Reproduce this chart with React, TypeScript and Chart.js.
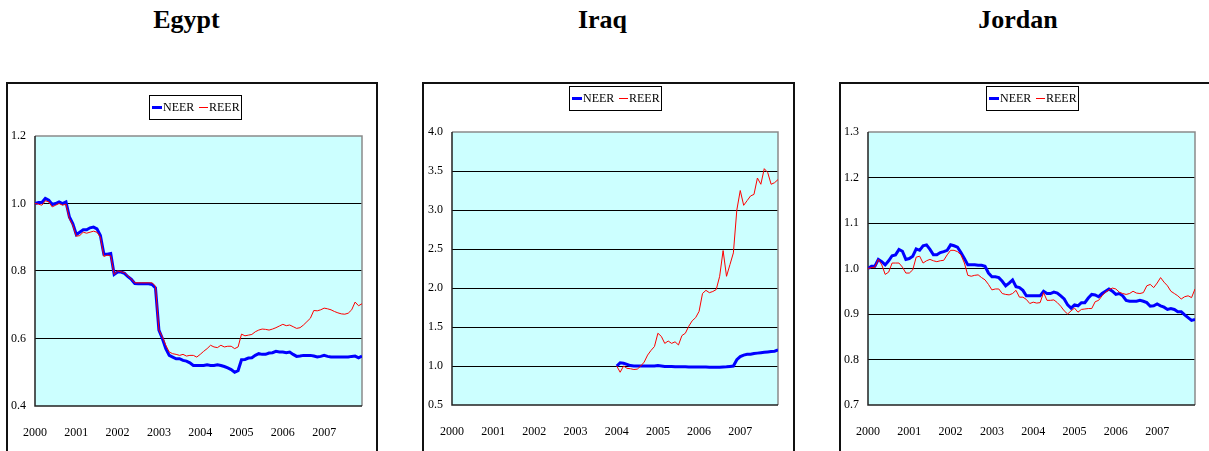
import React, { useEffect, useRef } from "react";
import { Chart, registerables } from "chart.js";

Chart.register(...registerables);

const YEAR_TICKS = [2000, 2001, 2002, 2003, 2004, 2005, 2006, 2007];
const SERIES_NAMES = ["NEER", "REER"];

// Monthly, Jan 2000 - Dec 2007
const EGYPT_NEER = [
  1.0, 1.003, 1.003, 1.015, 1.01, 0.997, 1.0, 1.005, 1.0, 1.005, 0.96, 0.94,
  0.908, 0.915, 0.922, 0.922, 0.928, 0.93, 0.925, 0.905, 0.85, 0.85, 0.852, 0.79,
  0.797, 0.797, 0.793, 0.783, 0.775, 0.763, 0.762, 0.762, 0.762, 0.762, 0.76, 0.75,
  0.625, 0.6, 0.57, 0.55, 0.545, 0.54, 0.54, 0.535, 0.533, 0.528, 0.52, 0.52,
  0.52, 0.52, 0.522, 0.52, 0.52, 0.522, 0.52, 0.517, 0.513, 0.508, 0.5, 0.505,
  0.537, 0.538, 0.542, 0.543, 0.55, 0.555, 0.553, 0.553, 0.557, 0.558, 0.562, 0.56,
  0.56, 0.558, 0.56, 0.553, 0.547, 0.548, 0.55, 0.55, 0.55, 0.548, 0.545, 0.547,
  0.55, 0.547, 0.545, 0.545, 0.545, 0.545, 0.545, 0.545, 0.547, 0.548, 0.543, 0.548,
];
const EGYPT_REER = [
  1.0, 0.998, 0.995, 1.008, 1.005, 0.99, 0.995, 1.0, 0.995, 0.998, 0.955, 0.935,
  0.903, 0.905, 0.915, 0.912, 0.915, 0.918, 0.915, 0.9, 0.843, 0.847, 0.845, 0.79,
  0.8, 0.798, 0.795, 0.785, 0.776, 0.765, 0.765, 0.765, 0.765, 0.765, 0.765, 0.755,
  0.625, 0.605, 0.58, 0.56, 0.555, 0.553, 0.55, 0.553, 0.548, 0.55, 0.55, 0.545,
  0.553, 0.562, 0.57, 0.58, 0.575, 0.573, 0.58, 0.575, 0.577, 0.577, 0.57, 0.575,
  0.613, 0.608, 0.61, 0.612, 0.62, 0.625, 0.628, 0.627, 0.625, 0.628, 0.632, 0.637,
  0.642, 0.638, 0.64, 0.635, 0.63, 0.632, 0.64, 0.65, 0.66, 0.683, 0.682, 0.685,
  0.69, 0.688, 0.685, 0.68, 0.676, 0.673, 0.672, 0.675, 0.685, 0.708, 0.697, 0.703,
];

// Monthly, Jan 2004 - Dec 2007
const IRAQ_START_YEAR = 2004;
const IRAQ_NEER = [
  1.0, 1.04, 1.035, 1.02, 1.005, 1.0, 1.0, 1.0, 1.0, 1.0, 1.0, 1.0,
  1.005, 1.0, 0.995, 0.995, 0.995, 0.99, 0.99, 0.99, 0.99, 0.988, 0.988, 0.988,
  0.988, 0.988, 0.988, 0.985, 0.985, 0.985, 0.985, 0.988, 0.99, 0.995, 1.0, 1.08,
  1.12, 1.14, 1.15, 1.15, 1.16, 1.165, 1.17, 1.175, 1.18, 1.185, 1.19, 1.205,
];
const IRAQ_REER = [
  1.0, 0.92, 1.0, 0.97, 0.965, 0.955, 0.96, 1.0, 1.05, 1.14, 1.2, 1.25,
  1.42, 1.38, 1.29, 1.32, 1.29, 1.31, 1.27, 1.39, 1.42, 1.51, 1.58, 1.62,
  1.7, 1.93, 1.97, 1.94, 1.955, 1.98, 2.15, 2.48, 2.15, 2.3, 2.45, 3.0,
  3.25, 3.06, 3.12, 3.18, 3.2, 3.41, 3.33, 3.53, 3.48, 3.33, 3.35, 3.39,
];

// Monthly, Jan 2000 - Dec 2007
const JORDAN_NEER = [
  1.0, 1.005, 1.005, 1.02, 1.015, 1.008, 1.017, 1.028, 1.03, 1.042, 1.038, 1.02,
  1.022, 1.027, 1.043, 1.04, 1.05, 1.052, 1.042, 1.03, 1.03, 1.035, 1.037, 1.04,
  1.052, 1.05, 1.047, 1.035, 1.022, 1.008, 1.008, 1.008, 1.007, 1.007, 1.005, 0.99,
  0.982, 0.982, 0.98, 0.972, 0.962, 0.968, 0.975, 0.96, 0.958, 0.952, 0.94, 0.94,
  0.94, 0.94, 0.94, 0.95, 0.945, 0.945, 0.948, 0.946, 0.94, 0.933, 0.92, 0.913,
  0.92, 0.918, 0.925, 0.925, 0.935, 0.943, 0.942, 0.938, 0.945, 0.95, 0.955, 0.95,
  0.943, 0.945, 0.94, 0.93, 0.928, 0.928, 0.928, 0.93, 0.928, 0.925, 0.917, 0.918,
  0.922, 0.918, 0.915, 0.91, 0.912, 0.91, 0.905, 0.905, 0.898, 0.892, 0.886, 0.888,
];
const JORDAN_REER = [
  1.0, 1.002, 1.003, 1.02, 1.008, 0.987, 0.992, 1.012, 1.012, 1.012, 1.003, 0.99,
  0.99, 0.997, 1.025, 1.027, 1.012, 1.017, 1.02, 1.017, 1.015, 1.017, 1.018, 1.03,
  1.04, 1.04, 1.037, 1.03, 1.012, 0.985, 0.983, 0.985, 0.986, 0.98, 0.975, 0.965,
  0.953, 0.955, 0.955, 0.945, 0.943, 0.942, 0.945, 0.952, 0.937, 0.937, 0.932, 0.923,
  0.926, 0.924, 0.925, 0.947, 0.93, 0.93, 0.931, 0.925, 0.917, 0.907, 0.9, 0.907,
  0.913, 0.904, 0.91, 0.911, 0.912, 0.912, 0.927, 0.93, 0.94, 0.948, 0.953, 0.957,
  0.955, 0.948, 0.945, 0.943, 0.945, 0.95, 0.946, 0.945, 0.947, 0.962, 0.965, 0.958,
  0.968, 0.98, 0.97, 0.962, 0.95, 0.945, 0.94, 0.933, 0.938, 0.94, 0.936, 0.955,
];

const FONT = "'Liberation Serif', 'Times New Roman', serif";
const X_MIN = 2000;
const X_MAX = 2000 + 95 / 12;

type Panel = {
  title: string;
  titleCenter: number;
  boxLeft: number;
  boxWidth: number;
  neer: number[];
  reer: number[];
  startYear: number;
  yMin: number;
  yMax: number;
  yStep: number;
  plotLeft: number;
  plotTop: number;
  plotBottom: number;
  legendX: number;
  legendY: number;
};

const CANVAS_W = 372;
const CANVAS_H = 368;
const PLOT_RIGHT = 355;

const PANELS: Panel[] = [
  {
    title: "Egypt", titleCenter: 186.5, boxLeft: 7, boxWidth: 372,
    neer: EGYPT_NEER, reer: EGYPT_REER, startYear: 2000,
    yMin: 0.4, yMax: 1.2, yStep: 0.2,
    plotLeft: 28, plotTop: 53, plotBottom: 323, legendX: 142, legendY: 12,
  },
  {
    title: "Iraq", titleCenter: 602.5, boxLeft: 423, boxWidth: 373,
    neer: IRAQ_NEER, reer: IRAQ_REER, startYear: IRAQ_START_YEAR,
    yMin: 0.5, yMax: 4.0, yStep: 0.5,
    plotLeft: 29, plotTop: 49, plotBottom: 322, legendX: 146, legendY: 3,
  },
  {
    title: "Jordan", titleCenter: 1018, boxLeft: 840, boxWidth: 372,
    neer: JORDAN_NEER, reer: JORDAN_REER, startYear: 2000,
    yMin: 0.7, yMax: 1.3, yStep: 0.1,
    plotLeft: 28, plotTop: 49, plotBottom: 322, legendX: 146, legendY: 3,
  },
];

function toPoints(values: number[], startYear: number) {
  return values.map((v, i) => ({ x: startYear + i / 12, y: v }));
}

function PanelChart({ p }: { p: Panel }) {
  const ref = useRef<HTMLCanvasElement | null>(null);
  useEffect(() => {
    if (!ref.current) return;
    const bgPlugin = {
      id: "plotBg",
      beforeDraw(chart: any) {
        const { ctx, chartArea: a } = chart;
        ctx.save();
        ctx.fillStyle = "#CCFFFF";
        ctx.fillRect(a.left, a.top, a.right - a.left, a.bottom - a.top);
        ctx.restore();
      },
      beforeDatasetsDraw(chart: any) {
        const { ctx, chartArea: a } = chart;
        ctx.save();
        ctx.lineWidth = 1.5;
        ctx.strokeStyle = "#8a8a8a";
        ctx.beginPath();
        ctx.moveTo(a.left, a.top);
        ctx.lineTo(a.right, a.top);
        ctx.lineTo(a.right, a.bottom);
        ctx.stroke();
        ctx.strokeStyle = "#222";
        ctx.beginPath();
        ctx.moveTo(a.left, a.top);
        ctx.lineTo(a.left, a.bottom);
        ctx.lineTo(a.right, a.bottom);
        ctx.stroke();
        ctx.restore();
      },
      afterDraw(chart: any) {
        const { ctx } = chart;
        const L = p.legendX;
        const T = p.legendY;
        const W = 92;
        const H = 24;
        ctx.save();
        ctx.fillStyle = "#fff";
        ctx.fillRect(L, T, W, H);
        ctx.strokeStyle = "#000";
        ctx.lineWidth = 1;
        ctx.strokeRect(L + 0.5, T + 0.5, W, H);
        const cy = T + H / 2 + 0.5;
        ctx.strokeStyle = "#0000FF";
        ctx.lineWidth = 3;
        ctx.beginPath();
        ctx.moveTo(L + 3, cy);
        ctx.lineTo(L + 13, cy);
        ctx.stroke();
        ctx.strokeStyle = "#FF0000";
        ctx.lineWidth = 1;
        ctx.beginPath();
        ctx.moveTo(L + 50, cy);
        ctx.lineTo(L + 59, cy);
        ctx.stroke();
        ctx.fillStyle = "#000";
        ctx.font = `12px ${FONT}`;
        ctx.textBaseline = "middle";
        ctx.textAlign = "left";
        ctx.fillText(SERIES_NAMES[0], L + 14, cy);
        ctx.fillText(SERIES_NAMES[1], L + 60, cy);
        ctx.restore();
      },
    };

    const chart = new Chart(ref.current, {
      type: "line",
      data: {
        datasets: [
          {
            label: SERIES_NAMES[0],
            data: toPoints(p.neer, p.startYear),
            borderColor: "#0000FF",
            backgroundColor: "#0000FF",
            borderWidth: 3,
            pointRadius: 0,
            tension: 0,
            order: 1,
          },
          {
            label: SERIES_NAMES[1],
            data: toPoints(p.reer, p.startYear),
            borderColor: "#FF0000",
            backgroundColor: "#FF0000",
            borderWidth: 1,
            pointRadius: 0,
            tension: 0,
            order: 0,
          },
        ],
      },
      options: {
        responsive: false,
        animation: false,
        events: [],
        layout: {
          padding: { left: 0, top: p.plotTop, right: CANVAS_W - PLOT_RIGHT, bottom: 0 },
        },
        plugins: {
          legend: { display: false },
          tooltip: { enabled: false },
          title: { display: false },
        },
        scales: {
          x: {
            type: "linear",
            min: X_MIN,
            max: X_MAX,
            afterFit: (s: any) => {
              s.height = CANVAS_H - p.plotBottom;
              s.paddingLeft = 0;
              s.paddingRight = 0;
            },
            grid: { display: false, drawTicks: false },
            border: { display: false },
            ticks: {
              stepSize: 1,
              includeBounds: false,
              autoSkip: false,
              maxRotation: 0,
              padding: 20,
              color: "#000",
              font: { family: FONT, size: 12 },
              callback: (v: any) => {
                const y = YEAR_TICKS.find((t) => Math.abs(t - Number(v)) < 1e-6);
                return y === undefined ? "" : String(y);
              },
            },
          },
          y: {
            type: "linear",
            min: p.yMin,
            max: p.yMax,
            afterFit: (s: any) => {
              s.width = p.plotLeft;
            },
            grid: {
              drawTicks: false,
              lineWidth: 1,
              color: (c: any) => {
                const v = c.tick ? c.tick.value : null;
                if (v === null) return "rgba(0,0,0,0)";
                if (Math.abs(v - p.yMin) < 1e-6 || Math.abs(v - p.yMax) < 1e-6) return "rgba(0,0,0,0)";
                return "#000";
              },
            },
            border: { display: false },
            ticks: {
              stepSize: p.yStep,
              padding: 9,
              color: "#000",
              font: { family: FONT, size: 12 },
              callback: (v: any) => Number(v).toFixed(1),
            },
          },
        },
      },
      plugins: [bgPlugin],
    } as any);
    return () => chart.destroy();
  }, [p]);

  return (
    <>
      <div
        style={{
          position: "absolute",
          left: p.titleCenter - 100,
          top: 7,
          width: 200,
          textAlign: "center",
          fontFamily: FONT,
          fontWeight: "bold",
          fontSize: 26,
          lineHeight: "26px",
          color: "#000",
        }}
      >
        {p.title}
      </div>
      <div
        style={{
          position: "absolute",
          left: p.boxLeft - 1,
          top: 82,
          width: p.boxWidth,
          height: 400,
          border: "2px solid #111",
          boxSizing: "border-box",
        }}
      />
      <canvas
        ref={ref}
        width={CANVAS_W}
        height={CANVAS_H}
        style={{ position: "absolute", left: p.boxLeft, top: 83, width: CANVAS_W, height: CANVAS_H }}
      />
    </>
  );
}

export default function App() {
  return (
    <div
      style={{
        position: "absolute",
        left: 0,
        top: 0,
        width: 1209,
        height: 451,
        overflow: "hidden",
        background: "#fff",
      }}
    >
      {PANELS.map((p) => (
        <PanelChart key={p.title} p={p} />
      ))}
    </div>
  );
}
